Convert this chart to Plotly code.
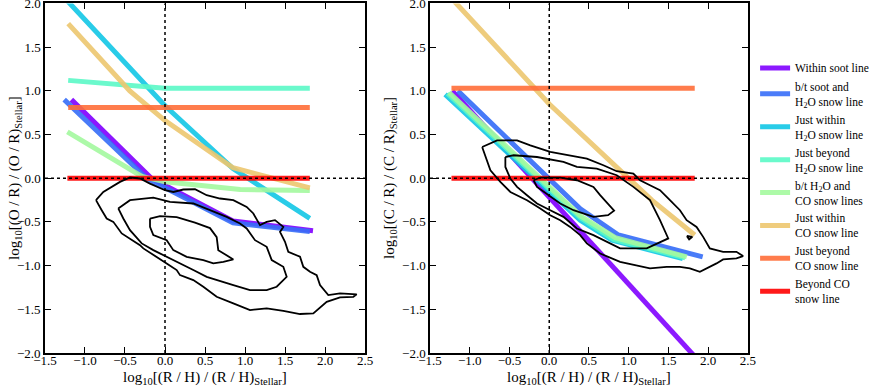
import plotly.graph_objects as go

# ---------------- data ----------------
labels = [
    "Within soot line",
    "b/t soot and<br>H<sub>2</sub>O snow line",
    "Just within<br>H<sub>2</sub>O snow line",
    "Just beyond<br>H<sub>2</sub>O snow line",
    "b/t H<sub>2</sub>O and<br>CO snow lines",
    "Just within<br>CO snow line",
    "Just beyond<br>CO snow line",
    "Beyond CO<br>snow line",
]
colors = ["#8000ff", "#376ef8", "#12c7e6", "#5bf9c7", "#a4f99f", "#edc76f", "#ff6e39", "#ff0000"]

# Left panel: O/R vs R/H
left_x = [
    [-1.17, -0.17, 0.85, 1.85],
    [-1.26, -0.23, 0.85, 1.81],
    [-1.22, 0.0, 0.85, 1.81],
    [-1.21, -0.5, 0.0, 1.81],
    [-1.22, -0.29, 0.0, 0.94, 1.81],
    [-1.21, -0.44, 0.0, 0.85, 1.81],
    [-1.21, 1.81],
    [-1.22, 1.81],
]
left_y = [
    [0.90, 0.0, -0.49, -0.60],
    [0.90, 0.0, -0.51, -0.61],
    [2.03, 0.83, 0.11, -0.46],
    [1.12, 1.06, 1.03, 1.03],
    [0.53, 0.02, -0.04, -0.13, -0.14],
    [1.77, 1.0, 0.66, 0.12, -0.11],
    [0.81, 0.81],
    [0.0, 0.0],
]

# Right panel: C/R vs R/H
right_x = [
    [-1.22, 1.83],
    [-1.15, 0.0, 0.39, 0.87, 1.93],
    [-1.31, -0.15, 0.39, 0.79, 1.68],
    [-1.28, -0.12, 0.39, 0.81, 1.71],
    [-1.26, -0.10, 0.39, 0.83, 1.73],
    [-1.22, 0.0, 1.29, 1.83],
    [-1.23, 1.83],
    [-1.23, 1.83],
]
right_y = [
    [1.0, -2.04],
    [1.0, 0.0, -0.35, -0.65, -0.90],
    [0.96, -0.02, -0.48, -0.71, -0.92],
    [0.97, -0.03, -0.45, -0.70, -0.91],
    [0.98, -0.02, -0.43, -0.68, -0.90],
    [2.05, 0.85, -0.25, -0.65],
    [1.03, 1.03],
    [0.0, 0.0],
]

# Observational contours (left panel)
lc_outer_x = [-0.8625, -0.771, -0.5625, -0.4375, -0.3125, -0.1875, 0.0, 0.104, 0.229, 0.375, 0.521, 0.6875,
              0.854, 1.021, 1.104, 1.1875, 1.271, 1.375, 1.479, 1.4375, 1.5, 1.541, 1.6875, 1.729, 1.8125,
              1.896, 1.9375, 2.041, 2.1875, 2.396, 2.354, 2.1875, 2.021, 1.854, 1.6875, 1.479, 1.271, 1.0625,
              0.854, 0.646, 0.479, 0.354, 0.1875, 0.146, 0.021, -0.104, -0.271, -0.3125, -0.479, -0.541,
              -0.646, -0.729, -0.791, -0.8625]
lc_outer_y = [-0.251, -0.157, -0.042, 0.008, -0.003, -0.061, -0.137, -0.157, -0.129, -0.126, -0.194, -0.232,
              -0.251, -0.328, -0.403, -0.537, -0.499, -0.48, -0.557, -0.614, -0.728, -0.842, -0.899, -1.014,
              -1.071, -1.109, -1.223, -1.337, -1.318, -1.329, -1.357, -1.363, -1.414, -1.546, -1.554, -1.517,
              -1.489, -1.509, -1.432, -1.357, -1.242, -1.166, -1.109, -1.051, -0.975, -0.899, -0.803, -0.766,
              -0.671, -0.632, -0.499, -0.461, -0.366, -0.251]
lc_mid_x = [-0.584, -0.4375, -0.146, 0.0625, 0.354, 0.5625, 0.771, 0.9375, 1.021, 1.125, 1.271, 1.334, 1.479,
            1.521, 1.396, 1.271, 1.0625, 0.854, 0.646, 0.521, 0.354, 0.1875, 0.021, -0.146, -0.291, -0.4375,
            -0.521, -0.584]
lc_mid_y = [-0.346, -0.251, -0.223, -0.271, -0.289, -0.366, -0.442, -0.518, -0.575, -0.709, -0.785, -0.937,
            -1.014, -1.128, -1.242, -1.28, -1.28, -1.223, -1.166, -1.128, -1.051, -0.975, -0.899, -0.823,
            -0.746, -0.594, -0.461, -0.346]
lc_in_x = [-0.1875, -0.0625, 0.146, 0.375, 0.5625, 0.646, 0.666, 0.854, 0.729, 0.604, 0.479, 0.271, 0.104,
           0.021, -0.146, -0.1875, -0.1875]
lc_in_y = [-0.461, -0.434, -0.446, -0.509, -0.571, -0.674, -0.823, -0.929, -0.957, -0.975, -0.937, -0.899,
           -0.823, -0.709, -0.651, -0.557, -0.461]

# Observational contours (right panel)
rc_outer_x = [-0.844, -0.656, -0.405, -0.238, 0.0125, 0.222, 0.473, 0.681, 0.849, 1.058, 1.142, 1.267, 1.393,
              1.518, 1.644, 1.728, 1.853, 1.936, 2.02, 2.187, 2.355, 2.438, 2.355, 2.187, 2.104, 1.895, 1.769,
              1.644, 1.477, 1.267, 1.058, 0.891, 0.64, 0.473, 0.389, 0.263, 0.138, 0.0125, -0.113, -0.28,
              -0.489, -0.615, -0.74, -0.803, -0.844]
rc_outer_y = [0.358, 0.434, 0.434, 0.377, 0.301, 0.263, 0.225, 0.149, 0.08, 0.054, -0.023, -0.08, -0.137,
              -0.251, -0.366, -0.48, -0.557, -0.671, -0.803, -0.842, -0.842, -0.891, -0.918, -0.929, -0.975,
              -1.071, -1.032, -1.014, -1.014, -1.032, -0.994, -0.957, -0.861, -0.746, -0.651, -0.557, -0.48,
              -0.423, -0.346, -0.251, -0.157, -0.042, 0.091, 0.243, 0.358]
rc_mid_x = [-0.552, -0.448, -0.154, 0.179, 0.348, 0.598, 0.849, 1.058, 1.267, 1.393, 1.497, 1.393, 1.226,
            0.891, 0.556, 0.348, 0.179, 0.0125, -0.154, -0.28, -0.405, -0.489, -0.552, -0.552]
rc_mid_y = [0.243, 0.263, 0.243, 0.186, 0.129, 0.111, 0.034, -0.099, -0.251, -0.48, -0.689, -0.731, -0.803,
            -0.803, -0.651, -0.575, -0.442, -0.366, -0.289, -0.194, -0.099, -0.003, 0.129, 0.243]
rc_in_x = [-0.197, -0.113, 0.138, 0.348, 0.556, 0.64, 0.816, 0.74, 0.556, 0.305, 0.138, -0.029, -0.154, -0.197]
rc_in_y = [-0.023, 0.008, 0.008, -0.023, -0.099, -0.194, -0.371, -0.423, -0.442, -0.366, -0.289, -0.175,
           -0.099, -0.023]
rc_tiny_x = [1.73, 1.80, 1.76, 1.73]
rc_tiny_y = [-0.66, -0.67, -0.70, -0.66]

# ---------------- figure ----------------
FONT = "Liberation Serif"
fig = go.Figure()

for i in range(len(labels)):
    fig.add_trace(go.Scatter(x=left_x[i], y=left_y[i], mode="lines", name=labels[i],
                             line=dict(color=colors[i], width=5), opacity=0.9,
                             xaxis="x", yaxis="y", legendgroup=str(i)))
for i in range(len(labels)):
    fig.add_trace(go.Scatter(x=right_x[i], y=right_y[i], mode="lines", name=labels[i],
                             line=dict(color=colors[i], width=5), opacity=0.9,
                             xaxis="x2", yaxis="y2", legendgroup=str(i), showlegend=False))

for cx, cy in [(lc_outer_x, lc_outer_y), (lc_mid_x, lc_mid_y), (lc_in_x, lc_in_y)]:
    fig.add_trace(go.Scatter(x=cx, y=cy, mode="lines", line=dict(color="black", width=1.8),
                             showlegend=False, hoverinfo="skip", xaxis="x", yaxis="y"))
for cx, cy in [(rc_outer_x, rc_outer_y), (rc_mid_x, rc_mid_y), (rc_in_x, rc_in_y), (rc_tiny_x, rc_tiny_y)]:
    fig.add_trace(go.Scatter(x=cx, y=cy, mode="lines", line=dict(color="black", width=1.8),
                             showlegend=False, hoverinfo="skip", xaxis="x2", yaxis="y2"))

axis_common = dict(showgrid=False, zeroline=False, showline=True, linecolor="black", linewidth=1.5,
                   mirror="allticks", ticks="inside", ticklen=6, tickwidth=1.2, tickcolor="black",
                   tickformat=".1f", dtick=0.5, tickfont=dict(family=FONT, size=13, color="black"),
                   automargin=False, ticklabeloverflow="allow")

ydom = [0.0879, 0.991]
fig.update_layout(
    width=877, height=387,
    margin=dict(l=0, r=0, t=0, b=0),
    paper_bgcolor="white", plot_bgcolor="white",
    xaxis=dict(domain=[0.0513, 0.4162], range=[-1.5, 2.5], tick0=-1.5, anchor="y",
               ticklabelstandoff=-5, **axis_common),
    yaxis=dict(domain=ydom, range=[-2, 2], tick0=-2, anchor="x", **axis_common),
    xaxis2=dict(domain=[0.4903, 0.8529], range=[-1.5, 2.5], tick0=-1.5, anchor="y2",
                ticklabelstandoff=-5, **axis_common),
    yaxis2=dict(domain=ydom, range=[-2, 2], tick0=-2, anchor="x2", **axis_common),
    showlegend=True,
    legend=dict(x=0.861, y=0.862, xanchor="left", yanchor="top", bgcolor="rgba(0,0,0,0)",
                font=dict(family=FONT, size=11.5, color="black"), itemwidth=30,
                tracegroupgap=0, traceorder="normal"),
    font=dict(family=FONT, color="black"),
)

# dotted reference lines
for xr, yr in [("x", "y"), ("x2", "y2")]:
    fig.add_shape(type="line", xref=xr, yref=yr + " domain", x0=0, x1=0, y0=0, y1=1,
                  line=dict(color="black", width=1.5, dash="dot"), layer="above")
    fig.add_shape(type="line", xref=xr + " domain", yref=yr, x0=0, x1=1, y0=0, y1=0,
                  line=dict(color="black", width=1.5, dash="dot"), layer="above")

title_font = dict(family=FONT, size=15, color="black")
xt = "log<sub>10</sub>[(R / H) / (R / H)<sub>Stellar</sub>]"
fig.add_annotation(text=xt, x=0.2337, y=0.022, xref="paper", yref="paper", showarrow=False,
                   xanchor="center", yanchor="middle", font=title_font)
fig.add_annotation(text=xt, x=0.6716, y=0.022, xref="paper", yref="paper", showarrow=False,
                   xanchor="center", yanchor="middle", font=title_font)
fig.add_annotation(text="log<sub>10</sub>[(O / R) / (O / R)<sub>Stellar</sub>]", x=0.0171, y=0.54,
                   xref="paper", yref="paper", showarrow=False, textangle=-90,
                   xanchor="center", yanchor="middle", font=title_font)
fig.add_annotation(text="log<sub>10</sub>[(C / R) / (C / R)<sub>Stellar</sub>]", x=0.4447, y=0.54,
                   xref="paper", yref="paper", showarrow=False, textangle=-90,
                   xanchor="center", yanchor="middle", font=title_font)

fig.write_html("out.html", config={"displayModeBar": False},
               post_script="document.body.style.margin='0';document.body.style.overflow='hidden';")
